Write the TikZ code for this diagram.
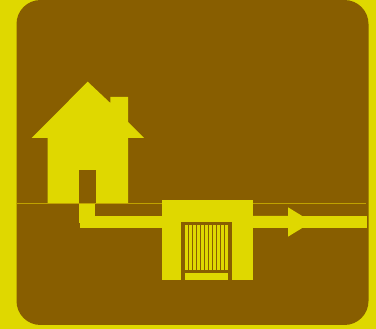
\documentclass[tikz,border=0pt]{standalone}
\usepackage{xcolor}
\usetikzlibrary{calc}
\definecolor{signyellow}{HTML}{DFD800}
\definecolor{signbrown}{HTML}{885E00}
\definecolor{groundline}{HTML}{C0A200}
\tikzset{
  yellowpart/.style={fill=signyellow, draw=none},
  brownpart/.style={fill=signbrown, draw=none},
}

\begin{document}
\begin{tikzpicture}[x=1pt, y=-1pt]
\useasboundingbox (0,0) rectangle (376,329);
\fill[signyellow] (0,0) rectangle (376,329);
\fill[brownpart, rounded corners=24pt] (16.5,0) rectangle (368.5,325);
\draw[groundline, line width=1.5pt] (16,203.5) -- (366,203.5);

\fill[yellowpart] (31.7,138) -- (87.7,81.7) -- (110.3,103) -- (110.3,97) -- (128,97) -- (128,122) -- (144,138)
  -- (128,138) -- (128,203) -- (47.7,203) -- (47.7,138) -- cycle;
\fill[brownpart] (79,170) rectangle (96,203);

\fill[yellowpart] (79,204) rectangle (95,223);
\fill[yellowpart] (80,216) rectangle (163,228);
\fill[yellowpart] (252,216) -- (288,216) -- (288,207.3) -- (312,222) -- (288,236.7) -- (288,228) -- (252,228)
  -- cycle;
\fill[yellowpart] (288,216) rectangle (367,228);

\fill[yellowpart] (162,200) rectangle (253,280);
\fill[brownpart] (181,222) rectangle (232,280);
\foreach \i in {0,...,10} {
  \fill[yellowpart] ({185+4*\i},225) rectangle ({188+4*\i},270);
}
\fill[yellowpart] (185,273) rectangle (228,280);
\end{tikzpicture}
\end{document}
